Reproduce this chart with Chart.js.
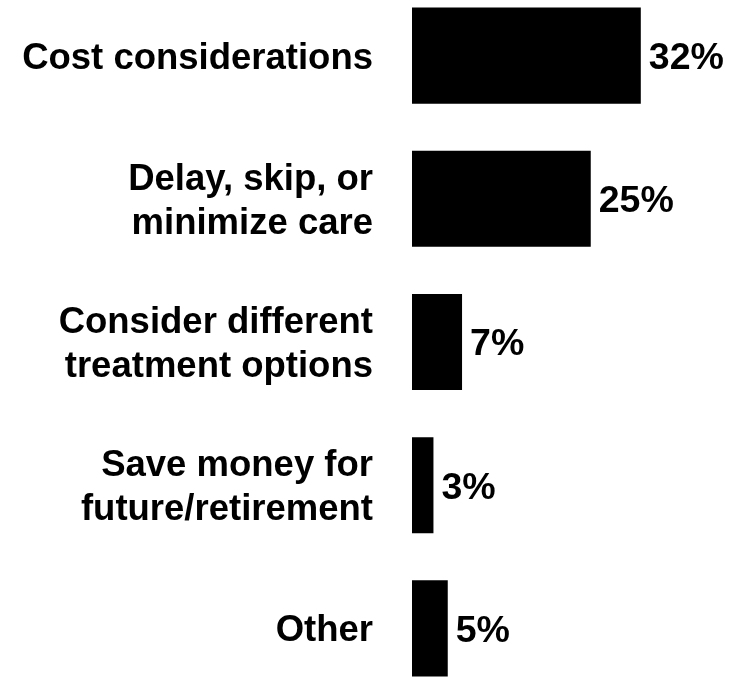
<!DOCTYPE html>
<html>
<head>
<meta charset="utf-8">
<script src="https://cdn.jsdelivr.net/npm/chart.js@4/dist/chart.umd.min.js"></script>
<style>
  html, body { margin: 0; padding: 0; background: #fff; overflow: hidden; }
  #wrap { position: absolute; left: 0; top: -16px; width: 743px; height: 716px; }
</style>
</head>
<body>
<div id="wrap"><canvas id="chart"></canvas></div>
<script>
// reasons, one bar each
const categories = [
  ["Cost considerations"],
  ["Delay, skip, or", "minimize care"],
  ["Consider different", "treatment options"],
  ["Save money for", "future/retirement"],
  ["Other"]
];
const values = [32, 25, 7, 3, 5];
const valueLabels = ["32%", "25%", "7%", "3%", "5%"];

const font = "'Liberation Sans', Arial, sans-serif";

// write the percentage just past the end of each bar
const barText = {
  id: "barText",
  afterDatasetsDraw(chart) {
    const ctx = chart.ctx;
    const meta = chart.getDatasetMeta(0);
    ctx.save();
    ctx.font = "bold 37.5px " + font;
    ctx.fillStyle = "#000";
    ctx.textAlign = "left";
    ctx.textBaseline = "middle";
    meta.data.forEach((bar, i) => {
      ctx.fillText(valueLabels[i], bar.x + 8, bar.y + 3);
    });
    ctx.restore();
  }
};

new Chart(document.getElementById("chart"), {
  type: "bar",
  data: {
    labels: categories,
    datasets: [{
      data: values,
      backgroundColor: "#000",
      borderWidth: 0,
      barPercentage: 1,
      categoryPercentage: 0.671
    }]
  },
  options: {
    indexAxis: "y",
    responsive: true,
    maintainAspectRatio: false,
    animation: false,
    layout: { padding: { left: 0, right: 45, top: 0, bottom: 0 } },
    plugins: {
      legend: { display: false },
      tooltip: { enabled: false }
    },
    scales: {
      x: {
        display: false,
        min: 0,
        max: 40
      },
      y: {
        grid: { display: false, drawTicks: false },
        border: { display: false },
        afterFit(scale) {
          // fixed label column, no extra room above/below the bars
          scale.width = 412;
          scale.paddingTop = 0;
          scale.paddingBottom = 0;
        },
        ticks: {
          color: "#000",
          padding: 39,
          labelOffset: 3,
          font: { family: font, size: 36.5, weight: "bold", lineHeight: 1.2 }
        }
      }
    }
  },
  plugins: [barText]
});
</script>
</body>
</html>
